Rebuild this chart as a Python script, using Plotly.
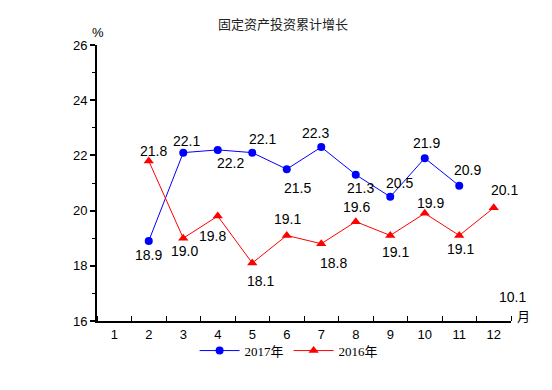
import plotly.graph_objects as go

months = list(range(1, 13))
tick_labels = [str(m) for m in months]

m2017 = [2, 3, 4, 5, 6, 7, 8, 9, 10, 11]
v2017 = [18.9, 22.1, 22.2, 22.1, 21.5, 22.3, 21.3, 20.5, 21.9, 20.9]
m2016 = [2, 3, 4, 5, 6, 7, 8, 9, 10, 11, 12]
v2016 = [21.8, 19.0, 19.8, 18.1, 19.1, 18.8, 19.6, 19.1, 19.9, 19.1, 20.1]

# label offsets in pixels (style only)
off2017 = [(0, -14), (3, 12), (13, -13), (10, 14), (11, -19), (-6, 14),
           (5, -13), (9, 14), (2, 15), (8, 16)]
off2016 = [(5, 10), (1, -13), (-5, -20), (8, -18), (1, 16), (12, -19),
           (1, 15), (5, -17), (6, 10), (1, -14), (11, 18)]

title = "固定资产投资累计增长"
name2017 = "2017年"
name2016 = "2016年"

fig = go.Figure()
fig.add_trace(go.Scatter(x=m2017, y=v2017, mode="lines+markers", name=name2017,
                         line=dict(color="#0000ff", width=1),
                         marker=dict(symbol="circle", size=8, color="#0000ff")))
fig.add_trace(go.Scatter(x=m2016, y=v2016, mode="lines+markers", name=name2016,
                         line=dict(color="#ff0000", width=1),
                         marker=dict(symbol="triangle-up", size=9, color="#ff0000")))

lab_font = dict(family="Liberation Sans, Arial", size=14, color="black")
anns = []
for x, y, (dx, dy) in zip(m2017, v2017, off2017):
    anns.append(dict(x=x, y=y, xref="x", yref="y", text=f"{y:.1f}", showarrow=False,
                     xshift=dx, yshift=dy, font=lab_font))
for x, y, (dx, dy) in zip(m2016, v2016, off2016):
    anns.append(dict(x=x, y=y, xref="x", yref="y", text=f"{y:.1f}", showarrow=False,
                     xshift=dx, yshift=dy, font=lab_font))
anns.append(dict(x=12.5, y=16, xref="x", yref="y", text="10.1", showarrow=False,
                 xshift=1, yshift=24, font=lab_font))
anns.append(dict(x=0.5, y=26, xref="x", yref="y", text="%", showarrow=False,
                 xshift=1, yshift=13, font=dict(family="Liberation Sans, Arial", size=13, color="black")))
anns.append(dict(x=12.5, y=16, xref="x", yref="y", text="月", showarrow=False,
                 xshift=12, yshift=6, font=dict(family="Noto Sans CJK SC", size=13, color="black")))

fig.update_layout(
    width=552, height=390,
    margin=dict(l=89, r=49, t=37, b=77),
    paper_bgcolor="white", plot_bgcolor="white",
    title=dict(text=title, x=0.498, xanchor="center", y=0.959, yanchor="middle",
               font=dict(family="Noto Sans CJK SC", size=13, color="#222")),
    showlegend=True,
    legend=dict(orientation="h", x=0.464, xanchor="center", y=-0.053, yanchor="top",
                font=dict(family="Liberation Serif, Noto Sans CJK SC", size=13, color="black"),
                itemwidth=40, tracegroupgap=0, bgcolor="rgba(0,0,0,0)"),
    annotations=anns,
)
fig.update_xaxes(range=[0.5, 12.5], tickmode="array", tickvals=months, ticktext=tick_labels,
                 ticks="", showgrid=False, zeroline=False,
                 showline=True, linecolor="black", linewidth=2,
                 tickfont=dict(family="Liberation Sans, Arial", size=13, color="black"),
                 minor=dict(tickmode="linear", tick0=0.5, dtick=1, ticks="inside", ticklen=5,
                            tickcolor="black", tickwidth=1, showgrid=False))
fig.update_yaxes(range=[16, 26], tickmode="linear", tick0=16, dtick=2,
                 ticks="outside", ticklen=5, tickwidth=1.5, tickcolor="black",
                 showgrid=False, zeroline=False,
                 showline=True, linecolor="black", linewidth=2,
                 tickfont=dict(family="Liberation Sans, Arial", size=13, color="black"),
                 minor=dict(tickmode="linear", tick0=16, dtick=1, ticks="outside", ticklen=3,
                            tickcolor="black", tickwidth=1, showgrid=False))

fig.write_html("out.html")
